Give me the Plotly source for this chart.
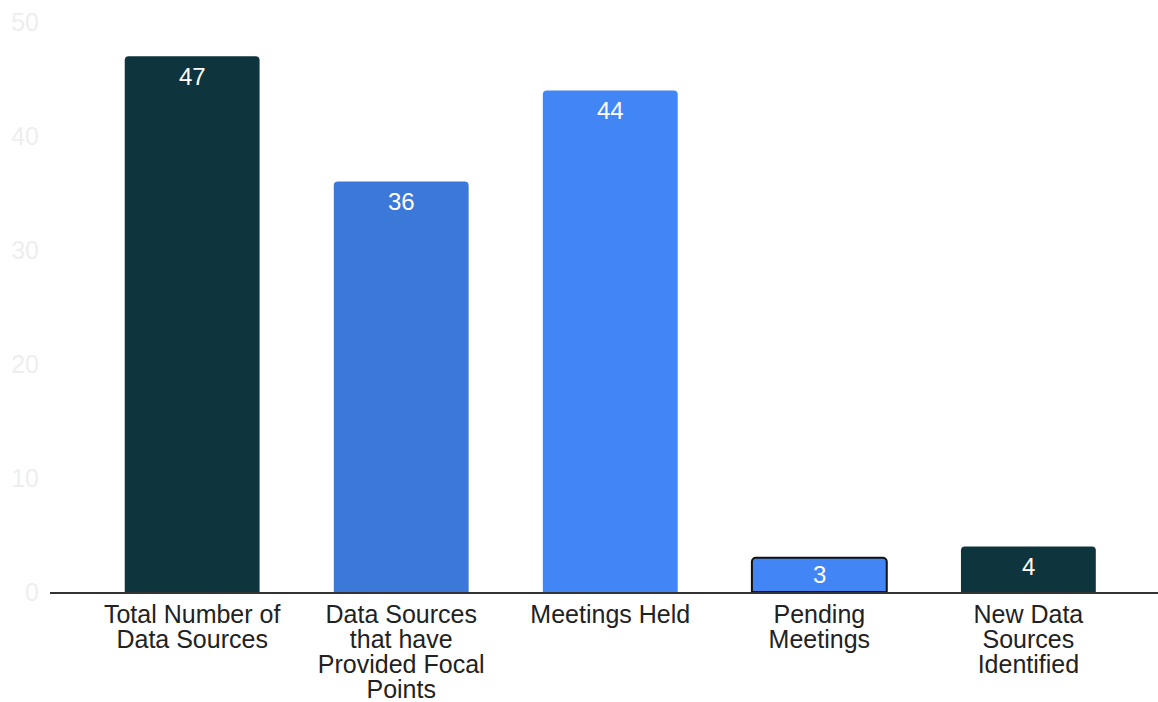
import plotly.graph_objects as go

category_lines = [
    ["Total Number of", "Data Sources"],
    ["Data Sources", "that have", "Provided Focal", "Points"],
    ["Meetings Held"],
    ["Pending", "Meetings"],
    ["New Data", "Sources", "Identified"],
]
values = [47, 36, 44, 3, 4]
colors = ["#0e343d", "#3c78d8", "#4285f4", "#4285f4", "#0e343d"]
line_widths = [0, 0, 0, 2, 0]
y_ticks = [0, 10, 20, 30, 40, 50]

FONT = "Liberation Sans, Arial"
xs = list(range(len(values)))

# Tick text: glyphs at 25px, line spacing driven by a 19.2px base font (tight wrap)
tick_text = [
    "<br>".join("<span style='font-size:25px'>%s</span>" % ln for ln in lines)
    for lines in category_lines
]

fig = go.Figure(
    go.Bar(
        x=xs,
        y=values,
        marker=dict(color=colors, line=dict(color="#111111", width=line_widths)),
        width=0.645,
        hoverinfo="skip",
    )
)

plot_h = 702 - 22 - 110
px_per_unit = plot_h / 50.0

annotations = []
for x, v in zip(xs, values):
    bar_px = v * px_per_unit
    shift = -min(20, bar_px / 2)
    annotations.append(dict(
        x=x, y=v, xref="x", yref="y", text=str(v), showarrow=False,
        yanchor="middle", xanchor="center", yshift=shift,
        font=dict(family=FONT, size=24, color="white"),
    ))

fig.update_layout(
    width=1158,
    height=702,
    margin=dict(l=50, r=0, t=22, b=110),
    paper_bgcolor="white",
    plot_bgcolor="white",
    barcornerradius=4,
    showlegend=False,
    font=dict(family=FONT, size=24, color="#222222"),
    annotations=annotations,
)
fig.update_xaxes(
    tickmode="array",
    tickvals=xs,
    ticktext=tick_text,
    range=[-0.68, 4.62],
    showline=True,
    linecolor="#333333",
    linewidth=2,
    showgrid=False,
    ticks="",
    ticklabelstandoff=6,
    tickfont=dict(size=19.2, color="#222222", family=FONT),
    fixedrange=True,
)
fig.update_yaxes(
    range=[0, 50],
    tickvals=y_ticks,
    showgrid=False,
    zeroline=False,
    showline=False,
    ticks="",
    tickfont=dict(size=25, color="#eeeeee"),
    ticklabelstandoff=10,
    fixedrange=True,
)

fig.write_html("out.html", config={"displayModeBar": False})
